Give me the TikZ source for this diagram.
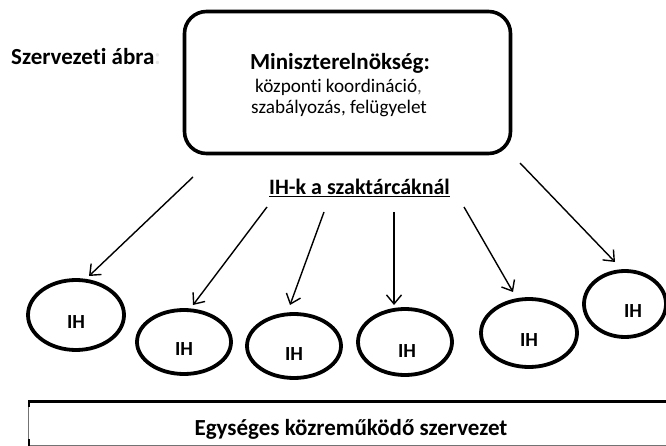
\documentclass[tikz,border=0pt]{standalone}
\usepackage{fontspec}
\setmainfont[Ligatures=NoCommon]{Carlito}
\usetikzlibrary{shapes.geometric,arrows.meta}
\tikzset{
  ihell/.style={draw, ellipse, line width=3.8pt, inner sep=0pt},
  ihtext/.style={font=\fontsize{20}{22}\selectfont\bfseries, inner sep=0pt},
  arr/.style={line width=1.4pt, -{Straight Barb[length=9pt,width=15pt,line width=1.4pt]}},
}
\begin{document}
\begin{tikzpicture}[x=1pt,y=-1pt]
\useasboundingbox (0,0) rectangle (666,446);
% title
\node[anchor=base west, inner sep=0pt, font=\fontsize{23}{26}\selectfont\bfseries] (title) at (11,65) {Szervezeti ábra\textcolor{black!10}{:}};
% main box
\node[draw, rounded corners=22pt, line width=3.6pt, minimum width=326pt, minimum height=142pt] (pm) at (347.5,82.5) {};
\node[anchor=base, inner sep=0pt, font=\fontsize{23}{25}\selectfont\bfseries] (pmtitle) at (340,70) {Miniszterelnökség:};
\node[anchor=base west, inner sep=0pt, font=\fontsize{19.2}{22}\selectfont] (pml1) at (255,93) {központi koordináció\textcolor{black!60}{,}};
\node[anchor=base west, inner sep=0pt, font=\fontsize{19.2}{22}\selectfont] (pml2) at (251,114) {szabályozás, felügyelet};
% IH-k label
\node[anchor=base west, inner sep=0pt, font=\fontsize{22}{24}\selectfont\bfseries] (ihk) at (269,195) {\underline{IH-k a szaktárcáknál}};
% ellipses
\node[ihell, minimum width=96pt, minimum height=70pt] (ih1) at (76,315) {};
\node[ihell, minimum width=94pt, minimum height=64pt] (ih2) at (184,342) {};
\node[ihell, minimum width=94pt, minimum height=64pt] (ih3) at (294,346) {};
\node[ihell, minimum width=94pt, minimum height=66pt] (ih4) at (405,342) {};
\node[ihell, minimum width=96pt, minimum height=68pt] (ih5) at (529,333) {};
\node[ihell, minimum width=82pt, minimum height=66pt] (ih6) at (625,304) {};
\node[ihtext] (l1) at ([yshift=-7pt]ih1) {IH};
\node[ihtext] (l2) at ([yshift=-7pt]ih2) {IH};
\node[ihtext] (l3) at ([yshift=-8pt]ih3) {IH};
\node[ihtext] (l4) at ([yshift=-9pt,xshift=2pt]ih4) {IH};
\node[ihtext] (l5) at ([yshift=-7pt]ih5) {IH};
\node[ihtext] (l6) at ([yshift=-7pt,xshift=8pt]ih6) {IH};
% arrow coordinates
\coordinate (s1) at (193,177); \coordinate (t1) at (89,276);
\coordinate (s2) at (267,207); \coordinate (t2) at (193,305);
\coordinate (s3) at (324,212); \coordinate (t3) at (290,305);
\coordinate (s4) at (394,212); \coordinate (t4) at (394,305);
\coordinate (s5) at (464,207); \coordinate (t5) at (513,292);
\coordinate (s6) at (520,163); \coordinate (t6) at (615,262);
\foreach \i in {1,...,6} { \draw[arr] (s\i) -- (t\i); }
% bottom box
\coordinate (bl) at (28,401); \coordinate (br) at (666,401);
\coordinate (bbl) at (28,446); \coordinate (bbr) at (666,445);
\draw[black!55, line width=1pt] (bl) -- (bbl);
\draw[black!55, line width=1pt] (28,445) -- (bbr);
\draw[line width=3pt] (bl) -- (br);
\draw[line width=2.6pt] (29,401) -- (29,407);
\draw[line width=2.6pt] (29,439) -- (29,446);
\node[anchor=base, inner sep=0pt, font=\fontsize{23}{25}\selectfont\bfseries] (kozr) at (351,435) {Egységes közreműködő szervezet};
\end{tikzpicture}
\end{document}
